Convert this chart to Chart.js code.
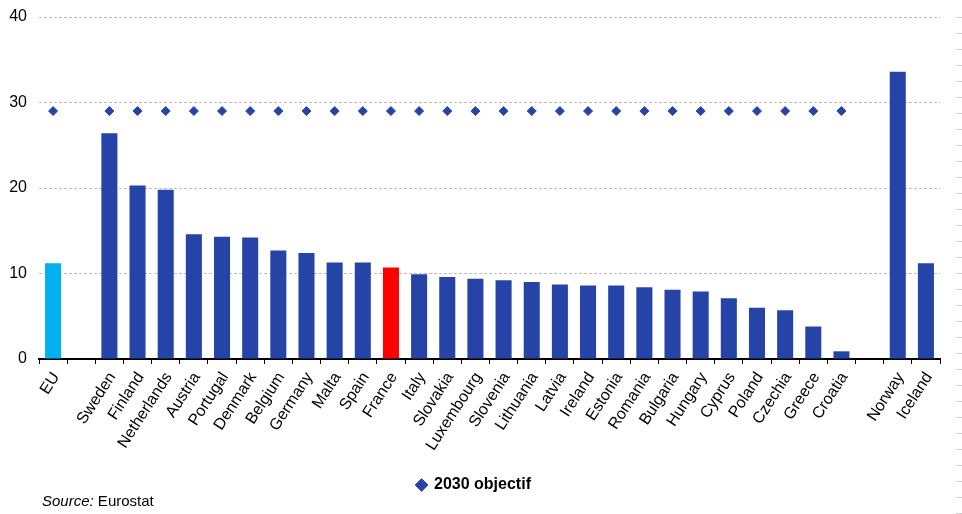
<!DOCTYPE html>
<html>
<head>
<meta charset="utf-8">
<script src="https://cdn.jsdelivr.net/npm/chart.js@4.4.1/dist/chart.umd.min.js"></script>
<style>
  html, body { margin: 0; padding: 0; background: #fff; }
  #wrap { position: relative; width: 962px; height: 514px; overflow: hidden; }
  #source { position: absolute; left: 42px; top: 492px; font: 15px "Liberation Sans", Arial, sans-serif; color: #000; }
  /* cut-off neighbour axis at the right edge */
  #edge { position: absolute; left: 956px; top: 17px; width: 6px; height: 497px;
    background: repeating-linear-gradient(to bottom, #cfcfcf 0, #cfcfcf 1px, transparent 1px, transparent 16px); }
</style>
</head>
<body>
<div id="wrap">
  <canvas id="chart" width="962" height="514"></canvas>
  <div id="source"><i>Source:</i> Eurostat</div>
  <div id="edge"></div>
</div>
<script>
// categories (blank slots separate EU / member states / EFTA)
var countries = ["EU", "", "Sweden", "Finland", "Netherlands", "Austria", "Portugal", "Denmark", "Belgium", "Germany",
  "Malta", "Spain", "France", "Italy", "Slovakia", "Luxembourg", "Slovenia", "Lithuania", "Latvia", "Ireland",
  "Estonia", "Romania", "Bulgaria", "Hungary", "Cyprus", "Poland", "Czechia", "Greece", "Croatia", "", "Norway", "Iceland"];

var shares = [11.2, null, 26.4, 20.3, 19.8, 14.6, 14.3, 14.2, 12.7, 12.4,
  11.3, 11.3, 10.7, 9.9, 9.6, 9.4, 9.2, 9.0, 8.7, 8.6,
  8.6, 8.4, 8.1, 7.9, 7.1, 6.0, 5.7, 3.8, 0.9, null, 33.6, 11.2];

var objective = [29, null, 29, 29, 29, 29, 29, 29, 29, 29,
  29, 29, 29, 29, 29, 29, 29, 29, 29, 29,
  29, 29, 29, 29, 29, 29, 29, 29, 29, null, null, null];

var yTicks = [0, 10, 20, 30, 40];

var blue = "#2644A7";
var barColors = countries.map(function(c) {
  if (c === "EU") return "#00B0F0";
  if (c === "France") return "#FF0000";
  return blue;
});

var font = "'Liberation Sans', Arial, sans-serif";

new Chart(document.getElementById("chart"), {
  type: "bar",
  data: {
    labels: countries,
    datasets: [{
      label: "share",
      data: shares,
      backgroundColor: barColors,
      barPercentage: 0.57,
      categoryPercentage: 1.0,
      order: 2
    }, {
      type: "line",
      label: "2030 objectif",
      data: objective,
      showLine: false,
      pointStyle: "rectRot",
      pointRadius: 4.5,
      pointHoverRadius: 4.5,
      pointBackgroundColor: blue,
      pointBorderColor: blue,
      backgroundColor: blue,
      borderColor: blue,
      order: 1
    }]
  },
  options: {
    responsive: false,
    animation: false,
    layout: { padding: { top: 17, right: 22, left: 8, bottom: 11 } },
    plugins: {
      tooltip: { enabled: false },
      legend: {
        position: "bottom",
        labels: {
          filter: function(item) { return item.text === "2030 objectif"; },
          usePointStyle: true,
          pointStyle: "rectRot",
          boxWidth: 9,
          boxHeight: 9,
          padding: 10,
          color: "#000",
          font: { family: font, size: 16, weight: "bold" }
        }
      }
    },
    scales: {
      x: {
        grid: { display: true, drawOnChartArea: false, drawTicks: true, tickLength: 5, color: "#000", lineWidth: 1 },
        border: { display: true, color: "#000", width: 2 },
        ticks: {
          autoSkip: false,
          minRotation: 57,
          maxRotation: 57,
          padding: 5,
          labelOffset: 3,
          color: "#000",
          font: { family: font, size: 16 }
        },
        afterFit: function(scale) { scale.height = 108; }
      },
      y: {
        min: 0,
        max: 40,
        afterBuildTicks: function(scale) { scale.ticks = yTicks.map(function(v) { return { value: v }; }); },
        grid: {
          drawTicks: true,
          tickLength: 12,
          tickColor: "rgba(0,0,0,0)",
          color: function(ctx) { return ctx.tick && ctx.tick.value === 0 ? "rgba(0,0,0,0)" : "#BFBFBF"; },
          lineWidth: 1
        },
        border: { display: false, dash: [3, 2] },
        ticks: {
          padding: 0,
          color: "#000",
          font: { family: font, size: 16 }
        },
        afterFit: function(scale) { scale.width = 31; }
      }
    }
  }
});
</script>
</body>
</html>
